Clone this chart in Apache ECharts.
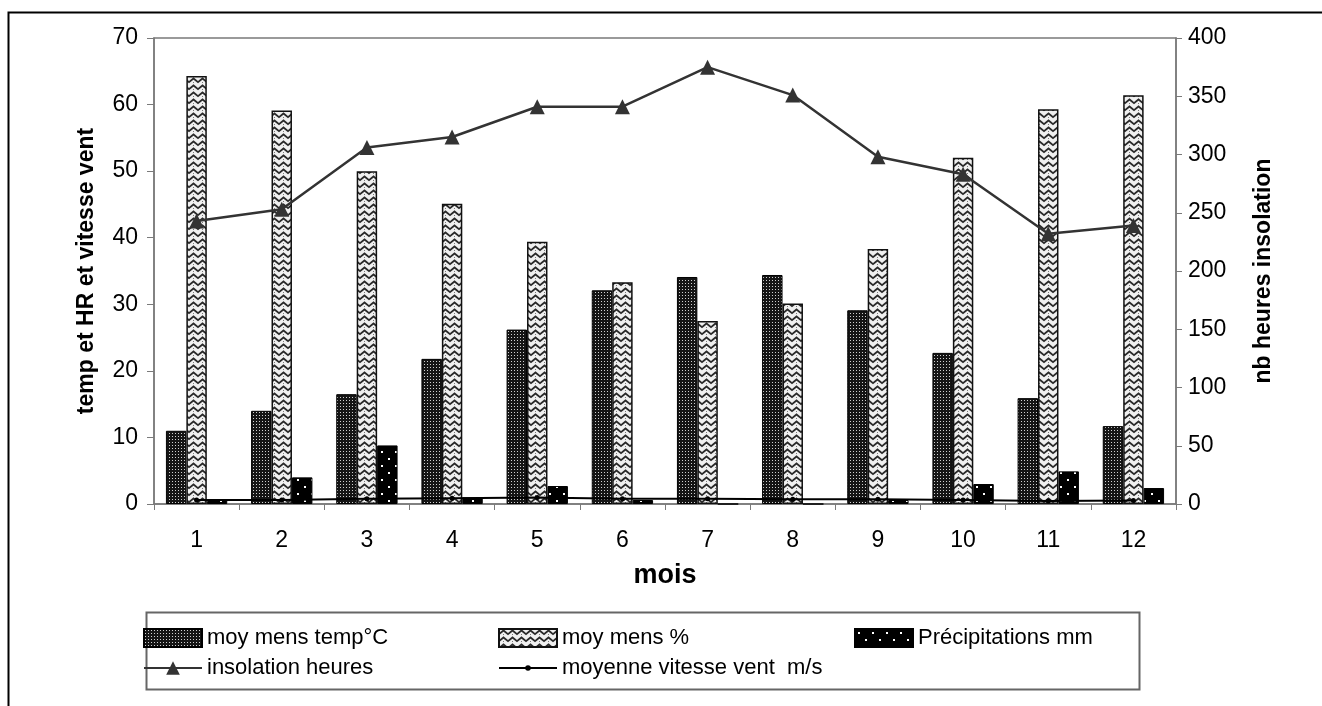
<!DOCTYPE html>
<html>
<head>
<meta charset="utf-8">
<script src="https://cdn.jsdelivr.net/npm/echarts@6/dist/echarts.min.js"></script>
<style>
html,body{margin:0;padding:0;background:#fff;}
#chart{width:1322px;height:706px;}
</style>
</head>
<body>
<div id="chart"></div>
<script>
var months = ['1','2','3','4','5','6','7','8','9','10','11','12'];
var tempMoy = [11.0, 14.0, 16.5, 21.8, 26.2, 32.1, 34.1, 34.4, 29.1, 22.7, 15.9, 11.7];
var humMoy = [64.3, 59.1, 50.0, 45.1, 39.4, 33.3, 27.5, 30.1, 38.3, 52.0, 59.3, 61.4];
var precip = [0.7, 4.0, 8.8, 1.0, 2.7, 0.6, 0, 0, 0.6, 3.0, 4.9, 2.4];
var insolation = [243, 253, 306, 315, 341, 341, 375, 351, 298, 283, 232, 239];
var vent = [3.5, 3.5, 4.5, 5.0, 5.5, 4.5, 4.5, 4.0, 4.0, 3.5, 2.5, 3.0];
var leftTicks = {min: 0, max: 70, interval: 10};
var rightTicks = {min: 0, max: 400, interval: 50};
var names = ['moy mens temp°C', 'moy mens %', 'Précipitations mm', 'insolation heures', 'moyenne vitesse vent  m/s'];

function makeTile(w, h, draw) {
  var c = document.createElement('canvas');
  c.width = w; c.height = h;
  var g = c.getContext('2d');
  draw(g);
  return c;
}
var tempTile = makeTile(3, 3, function (g) {
  g.fillStyle = '#151515'; g.fillRect(0, 0, 3, 3);
  g.fillStyle = '#d0d0d0'; g.fillRect(1, 1, 1, 1);
});
var humTile = makeTile(9, 7, function (g) {
  g.fillStyle = '#f0f0f0'; g.fillRect(0, 0, 9, 7);
  g.strokeStyle = '#2a2a2a'; g.lineWidth = 1.8;
  g.beginPath();
  g.moveTo(-1, 6); g.lineTo(4.5, 1.5); g.lineTo(10, 6);
  g.stroke();
  g.fillStyle = '#777';
  g.fillRect(4, 5, 1, 1);
});
var precTile = makeTile(14, 14, function (g) {
  g.fillStyle = '#000'; g.fillRect(0, 0, 14, 14);
  g.fillStyle = '#fff';
  g.fillRect(3, 3, 2, 2); g.fillRect(10, 10, 2, 2);
});

var FONT = '"Liberation Sans", Arial, sans-serif';
function legendAt(name, left, top, h, icon) {
  var d = {name: name};
  if (icon) d.icon = icon;
  return {
    data: [d], left: left, top: top, padding: 0,
    itemWidth: 58, itemHeight: h, itemGap: 0,
    textStyle: {fontSize: 22, fontFamily: FONT, color: '#000', padding: [0, 0, 0, 0]}
  };
}
var chart = echarts.init(document.getElementById('chart'), null, {renderer: 'canvas'});
chart.setOption({
  backgroundColor: '#fff',
  animation: false,
  textStyle: {fontFamily: FONT, color: '#000'},
  grid: {left: 154, right: 146, top: 38, bottom: 202, show: true, borderColor: '#7a7a7a', borderWidth: 1.5},
  graphic: [
    {type: 'rect', shape: {x: 8.5, y: 12.5, width: 1400, height: 800}, style: {fill: null, stroke: '#000', lineWidth: 2}, silent: true, z: -1},
    {type: 'rect', shape: {x: 146.5, y: 612.5, width: 993, height: 77}, style: {fill: null, stroke: '#666', lineWidth: 2}, silent: true}
  ],
  legend: [
    legendAt(names[0], 143, 627, 18, 'rect'),
    legendAt(names[1], 498, 627, 18, 'rect'),
    legendAt(names[2], 854, 627, 18, 'rect'),
    legendAt(names[3], 143, 657, 17),
    legendAt(names[4], 498, 657, 7)
  ],
  xAxis: {
    type: 'category',
    data: months,
    axisLine: {lineStyle: {color: '#7a7a7a', width: 1.5}},
    axisTick: {show: true, length: 6, lineStyle: {color: '#7a7a7a'}},
    axisLabel: {fontSize: 23, color: '#000', margin: 25, fontFamily: FONT},
    name: 'mois', nameLocation: 'middle', nameGap: 58,
    nameTextStyle: {fontSize: 27, fontWeight: 'bold', color: '#000', fontFamily: FONT}
  },
  yAxis: [
    {
      type: 'value', min: leftTicks.min, max: leftTicks.max, interval: leftTicks.interval,
      axisLine: {show: true, lineStyle: {color: '#7a7a7a', width: 1.5}},
      axisTick: {show: true, length: 7, lineStyle: {color: '#7a7a7a'}},
      splitLine: {show: false},
      axisLabel: {fontSize: 23, color: '#000', margin: 16, fontFamily: FONT},
      name: 'temp et HR et vitesse vent', nameLocation: 'middle', nameRotate: 90, nameGap: 56,
      nameTextStyle: {fontSize: 23, fontWeight: 'bold', color: '#000', fontFamily: FONT}
    },
    {
      type: 'value', min: rightTicks.min, max: rightTicks.max, interval: rightTicks.interval,
      position: 'right',
      axisLine: {show: true, lineStyle: {color: '#7a7a7a', width: 1.5}},
      axisTick: {show: true, length: 6, lineStyle: {color: '#7a7a7a'}},
      splitLine: {show: false},
      axisLabel: {fontSize: 23, color: '#000', margin: 12, fontFamily: FONT},
      name: 'nb heures insolation', nameLocation: 'middle', nameRotate: 90, nameGap: 76,
      nameTextStyle: {fontSize: 23, fontWeight: 'bold', color: '#000', fontFamily: FONT}
    }
  ],
  series: [
    {
      name: names[0], type: 'bar', yAxisIndex: 0, data: tempMoy,
      barGap: '0%', barCategoryGap: '28%',
      itemStyle: {color: {image: tempTile, repeat: 'repeat'}, borderColor: '#000', borderWidth: 1}
    },
    {
      name: names[1], type: 'bar', yAxisIndex: 0, data: humMoy,
      itemStyle: {color: {image: humTile, repeat: 'repeat'}, borderColor: '#111', borderWidth: 1.5}
    },
    {
      name: names[2], type: 'bar', yAxisIndex: 0, data: precip,
      itemStyle: {color: {image: precTile, repeat: 'repeat'}, borderColor: '#000', borderWidth: 1}
    },
    {
      name: names[3], type: 'line', yAxisIndex: 1, data: insolation,
      symbol: 'triangle', symbolSize: 15,
      lineStyle: {color: '#333', width: 2.5},
      itemStyle: {color: '#333'},
      z: 5
    },
    {
      name: names[4], type: 'line', yAxisIndex: 1, data: vent,
      symbol: 'circle', symbolSize: 5,
      lineStyle: {color: '#000', width: 2},
      itemStyle: {color: '#000'},
      z: 6
    }
  ]
});
</script>
</body>
</html>
